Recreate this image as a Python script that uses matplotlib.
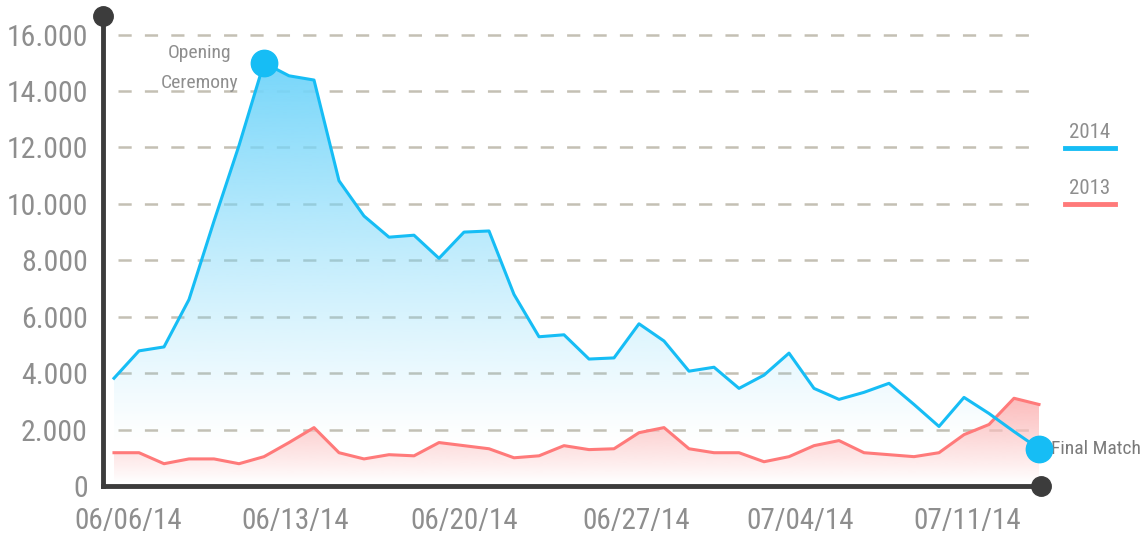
import numpy as np
import matplotlib
matplotlib.use("Agg")
import matplotlib.pyplot as plt

# ----------------- data -----------------
visits_2014 = [3820, 4790, 4930, 6610, 9390, 12070, 15000, 14540, 14390, 10820,
               9570, 8820, 8890, 8070, 9000, 9040, 6790, 5290, 5360, 4500,
               4540, 5750, 5140, 4070, 4210, 3460, 3930, 4710, 3460, 3070,
               3320, 3640, 2890, 2110, 3140, 2570, 1930, 1320]
visits_2013 = [1180, 1180, 790, 960, 960, 790, 1040, 1540, 2070, 1180,
               960, 1110, 1070, 1540, 1430, 1320, 1000, 1070, 1430, 1290,
               1320, 1890, 2070, 1320, 1180, 1180, 860, 1040, 1430, 1610,
               1180, 1110, 1040, 1180, 1820, 2180, 3110, 2890]
tick_labels = ["06/06/14", "06/13/14", "06/20/14", "06/27/14", "07/04/14", "07/11/14"]
y_ticks = [0, 2000, 4000, 6000, 8000, 10000, 12000, 14000, 16000]

BLUE = "#16bdf5"
RED = "#ff7a7a"
DARK = "#3c3c3c"
GREY = "#8e8e8e"
FONT = ["Liberation Sans Narrow", "Roboto Condensed", "DejaVu Sans"]

plt.rcParams["font.family"] = FONT
plt.rcParams["lines.scale_dashes"] = False

x = np.arange(len(visits_2014))
v14 = np.array(visits_2014, dtype=float)
v13 = np.array(visits_2013, dtype=float)

fig = plt.figure(figsize=(11.43, 5.39), dpi=100)
W, H = 1143, 539
ax = fig.add_axes([103 / W, (H - 486) / H, (1041 - 103) / W, (486 - 16) / H])


def gradient_fill(ax, xs, ys, rgb, lo, hi, gamma, zorder):
    poly = ax.fill_between(xs, ys, 0, facecolor="none", edgecolor="none")
    vals = np.linspace(0, ys.max(), 300)
    a = np.clip((vals - lo) / (hi - lo), 0, 1) ** gamma
    img = np.zeros((300, 1, 4))
    img[..., 0] = rgb[0] / 255
    img[..., 1] = rgb[1] / 255
    img[..., 2] = rgb[2] / 255
    img[..., 3] = a[:, None]
    im = ax.imshow(img, extent=[xs.min(), xs.max(), 0, ys.max()], origin="lower",
                   aspect="auto", zorder=zorder, interpolation="bilinear")
    im.set_clip_path(poly.get_paths()[0], transform=ax.transData)


gradient_fill(ax, x, v14, (118, 214, 250), 1500, 15000, 1.15, 1)
gradient_fill(ax, x, v13, (252, 190, 190), 150, 3000, 0.9, 2)

ax.plot(x, v14, color=BLUE, lw=2.2, zorder=4)
ax.plot(x, v13, color=RED, lw=2.2, zorder=3)

# dashed grid
ax.hlines(y_ticks[1:], 0.16, 36.84, colors="#c4c0b4", lw=1.8,
          linestyles=(0, (9.5, 9.5)), zorder=0)

# highlight points
i_peak = int(np.argmax(v14))
ax.plot(x[i_peak], v14[i_peak], "o", ms=19, color=BLUE, zorder=5, clip_on=False)
ax.plot(x[-1], v14[-1], "o", ms=19, color=BLUE, zorder=5, clip_on=False)
ax.annotate("Opening\nCeremony", xy=(x[i_peak], v14[i_peak]), xytext=(-64, -5),
            textcoords="offset pixels", ha="center", va="center", fontsize=14,
            color=GREY, linespacing=1.85)
ax.annotate("Final Match", xy=(x[-1], v14[-1]), xytext=(12, 0),
            textcoords="offset pixels", ha="left", va="center", fontsize=14,
            color="#7a7a7a")

ax.set_xlim(-0.44, 37.08)
ax.set_ylim(0, 16660)

for s in ["top", "right"]:
    ax.spines[s].set_visible(False)
for s in ["left", "bottom"]:
    ax.spines[s].set_color(DARK)
    ax.spines[s].set_linewidth(3.5)
    ax.spines[s].set_zorder(6)
ax.plot([0], [1], "o", ms=14, color=DARK, transform=ax.transAxes, clip_on=False, zorder=7)
ax.plot([1], [0], "o", ms=14, color=DARK, transform=ax.transAxes, clip_on=False, zorder=7)

ax.set_yticks(y_ticks)
ax.set_yticklabels([f"{v:,}".replace(",", ".") for v in y_ticks])
ax.set_xticks([0.56, 7.24, 14.0, 20.88, 27.44, 34.12])
ax.set_xticklabels(tick_labels)
ax.tick_params(axis="y", length=0, pad=11, labelsize=21.5, labelcolor=GREY)
ax.tick_params(axis="x", length=0, pad=15, labelsize=21, labelcolor=GREY)

# legend
for label, col, ytop in [("2014", BLUE, 148), ("2013", RED, 204)]:
    fig.add_artist(plt.Line2D([1065 / W, 1115 / W], [(H - ytop) / H] * 2,
                              color=col, lw=3.5, transform=fig.transFigure))
    fig.text(1090 / W, (H - ytop + 6) / H, label, ha="center", va="bottom",
             fontsize=15, color=GREY)

fig.savefig("out.png", dpi=100)
